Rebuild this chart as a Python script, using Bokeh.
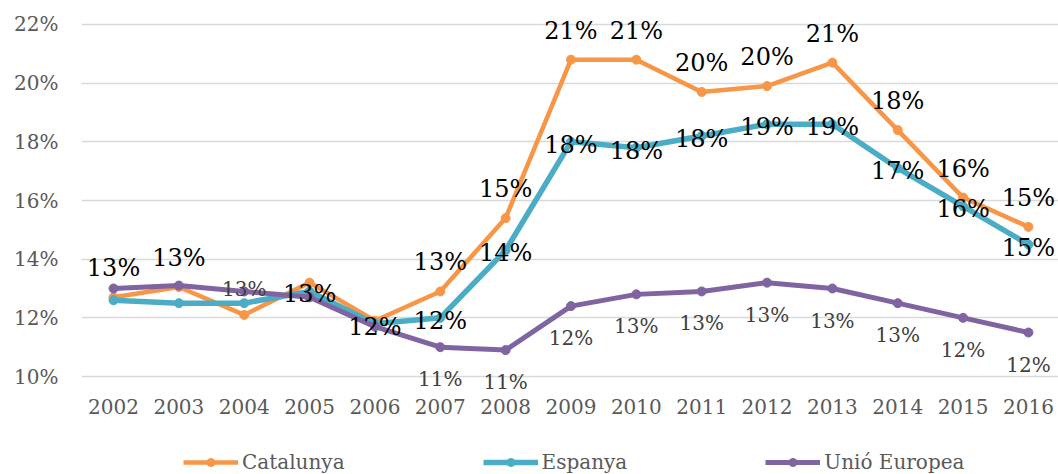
import math
from bokeh.plotting import figure
from bokeh.layouts import column
from bokeh.models import (ColumnDataSource, Range1d, FixedTicker, PrintfTickFormatter,
                          Legend, LegendItem)
from bokeh.core.properties import value
from bokeh.embed import file_html
from bokeh.resources import INLINE

# ---------------- data ----------------
years = [2002, 2003, 2004, 2005, 2006, 2007, 2008, 2009, 2010, 2011, 2012, 2013, 2014, 2015, 2016]
catalunya = [12.7, 13.05, 12.1, 13.2, 11.9, 12.9, 15.4, 20.8, 20.8, 19.7, 19.9, 20.7, 18.4, 16.1, 15.1]
espanya = [12.6, 12.5, 12.5, 12.9, 11.8, 12.0, 14.3, 18.0, 17.8, 18.2, 18.6, 18.6, 17.1, 15.8, 14.5]
unio_europea = [13.0, 13.1, 12.9, 12.7, 11.7, 11.0, 10.9, 12.4, 12.8, 12.9, 13.2, 13.0, 12.5, 12.0, 11.5]
series_names = ["Catalunya", "Espanya", "Unió Europea"]
y_ticks = [10, 12, 14, 16, 18, 20, 22]

# years whose data label is shown in the original chart
cat_labeled = [2002, 2003, 2007, 2008, 2009, 2010, 2011, 2012, 2013, 2014, 2015, 2016]
esp_labeled = [2005, 2006, 2007, 2008, 2009, 2010, 2011, 2012, 2013, 2014, 2015, 2016]
ue_labeled = [2004, 2007, 2008, 2009, 2010, 2011, 2012, 2013, 2014, 2015, 2016]

# ---------------- styles ----------------
FONT = "DejaVu Serif"
colors = ["#F79646", "#4BACC6", "#8064A2"]
label_colors = ["#000000", "#000000", "#404040"]
label_sizes = ["24px", "24px", "20px"]
widths = [4.5, 5.5, 5.0]

x_idx = list(range(len(years)))

p = figure(width=1058, height=422,
           x_range=Range1d(-0.49, 14.46), y_range=Range1d(9.455, 22.136),
           output_backend="svg", toolbar_location=None,
           min_border_left=81, min_border_right=0, min_border_top=20, min_border_bottom=30)
p.outline_line_color = None

# axes
xa = p.xaxis[0]
xa.ticker = FixedTicker(ticks=x_idx)
xa.major_label_overrides = {i: str(y) for i, y in zip(x_idx, years)}
xa.axis_line_color = None
xa.major_tick_line_color = None
xa.minor_tick_line_color = None
xa.major_tick_out = 0
xa.major_tick_in = 0
xa.major_label_standoff = 6
xa.major_label_text_font = FONT
xa.major_label_text_font_size = "20px"
xa.major_label_text_color = "#595959"

ya = p.yaxis[0]
ya.ticker = FixedTicker(ticks=y_ticks)
ya.formatter = PrintfTickFormatter(format="%d%%")
ya.axis_line_color = None
ya.major_tick_line_color = None
ya.minor_tick_line_color = None
ya.major_tick_out = 0
ya.major_tick_in = 0
ya.major_label_standoff = 23
ya.major_label_text_font = FONT
ya.major_label_text_font_size = "20px"
ya.major_label_text_color = "#595959"

p.xgrid.grid_line_color = None
p.ygrid.ticker = FixedTicker(ticks=y_ticks)
p.ygrid.grid_line_color = "#D9D9D9"
p.ygrid.grid_line_width = 1.6

all_series = [catalunya, espanya, unio_europea]
labeled = [cat_labeled, esp_labeled, ue_labeled]

sources = []
for name, vals, col, lw in zip(series_names, all_series, colors, widths):
    src = ColumnDataSource(dict(x=x_idx, y=vals))
    sources.append(src)
    p.line("x", "y", source=src, line_color=col, line_width=lw, line_join="round")
    p.scatter("x", "y", source=src, marker="circle", size=9, fill_color=col, line_color=col)

# data labels
for k, (vals, shown) in enumerate(zip(all_series, labeled)):
    xs, ys, txt, offs = [], [], [], []
    for i, (yr, v) in enumerate(zip(years, vals)):
        if yr not in shown:
            continue
        xs.append(i)
        ys.append(v)
        txt.append(f"{math.floor(v + 0.5)}%")
        if k == 0:
            offs.append(-29)
        elif k == 1:
            offs.append(3)
        else:
            offs.append(-2 if yr == 2004 else 32)
    lsrc = ColumnDataSource(dict(x=xs, y=ys, t=txt, off=offs))
    p.text("x", "y", text="t", source=lsrc, y_offset="off",
           text_align="center", text_baseline="middle",
           text_font=value(FONT), text_font_size=label_sizes[k],
           text_color=label_colors[k])

# ---------------- legend strip (series drawn out of view; only the legend shows) ----------------
q = figure(width=1058, height=52, x_range=Range1d(-0.49, 14.46), y_range=Range1d(0, 1),
           output_backend="svg", toolbar_location=None,
           x_axis_location=None, y_axis_location=None,
           min_border_left=81, min_border_right=0, min_border_top=0, min_border_bottom=0)
q.outline_line_color = None
q.xgrid.visible = False
q.ygrid.visible = False

items = []
for name, src, col, lw in zip(series_names, sources, colors, widths):
    rl = q.line("x", "y", source=src, line_color=col, line_width=lw)
    rp = q.scatter("x", "y", source=src, marker="circle", size=9, fill_color=col, line_color=col)
    items.append(LegendItem(label=name, renderers=[rl, rp]))

legend = Legend(items=items, orientation="horizontal", location=(102, 0),
                border_line_color=None, background_fill_alpha=0,
                glyph_width=55, glyph_height=20, label_standoff=4, spacing=138,
                margin=0, padding=0,
                label_text_font=FONT, label_text_font_size="20px",
                label_text_color="#595959")
q.add_layout(legend, "center")

open("out.html", "w").write(file_html(column(p, q, spacing=0), INLINE))
